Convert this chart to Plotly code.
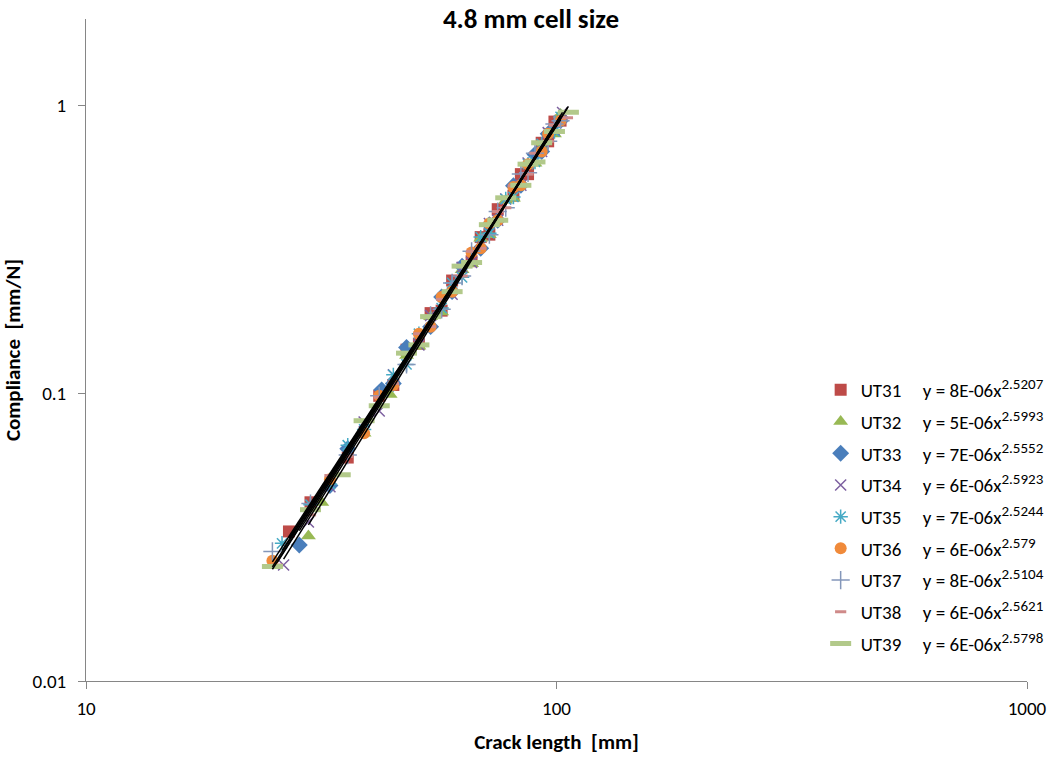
import numpy as np
import plotly.graph_objects as go

# ---- data (crack length [mm], compliance [mm/N]) ----
names = ["UT31", "UT32", "UT33", "UT34", "UT35", "UT36", "UT37", "UT38", "UT39"]
equations = [
    ("8E-06", "2.5207"), ("5E-06", "2.5993"), ("7E-06", "2.5552"),
    ("6E-06", "2.5923"), ("7E-06", "2.5244"), ("6E-06", "2.579"),
    ("8E-06", "2.5104"), ("6E-06", "2.5621"), ("6E-06", "2.5798"),
]

ut31_x = [27, 30, 36, 42, 45, 48, 51, 54, 57, 60, 66, 69, 72, 75, 81, 84, 87, 93, 96, 99, 102]
ut31_y = [0.0331, 0.0418, 0.0598, 0.0980, 0.1069, 0.1418, 0.1488, 0.1900, 0.1938, 0.2466, 0.2878,
          0.3491, 0.3560, 0.4365, 0.4864, 0.5779, 0.5777, 0.7427, 0.7514, 0.8800, 0.8866]

ut32_x = [29.7, 31.7, 39, 44.3, 48, 51, 54, 57, 63, 66, 69, 72, 78, 81, 87, 90, 93, 99, 102]
ut32_y = [0.0319, 0.0417, 0.0726, 0.0990, 0.1352, 0.1457, 0.1847, 0.1918, 0.2688, 0.2819, 0.3458,
          0.3560, 0.4690, 0.4763, 0.6259, 0.6305, 0.7284, 0.7962, 0.9318]

ut33_x = [28.4, 33, 36, 42.5, 45, 48, 54, 57, 60, 63, 69, 72, 75, 81, 84, 90, 93, 96, 102]
ut33_y = [0.0297, 0.0478, 0.0642, 0.1028, 0.1081, 0.1444, 0.1705, 0.2162, 0.2256, 0.2767, 0.3192,
          0.3856, 0.3994, 0.5265, 0.5284, 0.6765, 0.6927, 0.7978, 0.8866]

ut34_x = [26.3, 29.7, 33, 39, 42, 45, 51, 54, 60, 63, 66, 72, 75, 78, 84, 87, 93, 96, 99, 103]
ut34_y = [0.0253, 0.0357, 0.0473, 0.0795, 0.0868, 0.1159, 0.1473, 0.1865, 0.2210, 0.2740, 0.2848,
          0.3893, 0.3994, 0.4735, 0.5284, 0.6319, 0.6927, 0.8056, 0.8213, 0.9462]

ut35_x = [26.1, 30, 33, 36, 39, 45, 48, 51, 57, 60, 63, 69, 72, 78, 81, 87, 90, 93, 99, 102]
ut35_y = [0.0301, 0.0410, 0.0483, 0.0660, 0.0749, 0.1159, 0.1260, 0.1611, 0.1979, 0.2419, 0.2530,
          0.3491, 0.3597, 0.4735, 0.4813, 0.6259, 0.6371, 0.7355, 0.8130, 0.9137]

ut36_x = [24.9, 33, 39, 42, 45, 51, 54, 57, 60, 66, 69, 72, 75, 81, 84, 87, 93, 96, 102]
ut36_y = [0.0262, 0.0503, 0.0726, 0.0980, 0.1069, 0.1611, 0.1705, 0.2162, 0.2256, 0.3086, 0.3192,
          0.3893, 0.3994, 0.5215, 0.5284, 0.6259, 0.6927, 0.7978, 0.8866]

ut37_x = [24.9, 30, 36, 42, 48, 54, 57, 60, 63, 66, 72, 75, 78, 84, 87, 90, 96, 99, 102]
ut37_y = [0.0282, 0.0414, 0.0610, 0.0980, 0.1260, 0.1865, 0.1958, 0.2419, 0.2556, 0.3115, 0.3560,
          0.4283, 0.4416, 0.5779, 0.5837, 0.6831, 0.7514, 0.8632, 0.8866]

ut38_x = [25.5, 30, 33, 36, 42, 45, 51, 54, 57, 63, 66, 69, 75, 78, 81, 87, 90, 96, 99, 105.5]
ut38_y = [0.0253, 0.0378, 0.0518, 0.0604, 0.0970, 0.1081, 0.1611, 0.1705, 0.2122, 0.2556, 0.3115,
          0.3192, 0.4283, 0.4416, 0.5265, 0.5777, 0.6831, 0.7514, 0.8549, 0.9073]

ut39_x = [24.9, 30, 34.7, 39, 42, 48, 51, 54, 60, 63, 66, 72, 75, 78, 84, 87, 90, 93, 99, 106]
ut39_y = [0.0250, 0.0394, 0.0521, 0.0803, 0.0905, 0.1379, 0.1473, 0.1847, 0.2256, 0.2767, 0.2848,
          0.3856, 0.3994, 0.4781, 0.5284, 0.6259, 0.6371, 0.7427, 0.8130, 0.9481]

xs = [ut31_x, ut32_x, ut33_x, ut34_x, ut35_x, ut36_x, ut37_x, ut38_x, ut39_x]
ys = [ut31_y, ut32_y, ut33_y, ut34_y, ut35_y, ut36_y, ut37_y, ut38_y, ut39_y]

# ---- styles ----
FONT = "Calibri, Carlito, Lato, sans-serif"
styles = [
    dict(symbol="square", color="#BE4B48", size=12),
    dict(symbol="triangle-up", color="#98B954", size=13),
    dict(symbol="diamond", color="#4A7EBB", size=13),
    dict(symbol="x-thin-open", color="#7D60A0", size=11, line=dict(width=1.5, color="#7D60A0")),
    dict(symbol="asterisk-open", color="#46AAC5", size=12, line=dict(width=1.5, color="#46AAC5")),
    dict(symbol="circle", color="#F08A3A", size=12),
    dict(symbol="cross-thin-open", color="#8497BA", size=13, line=dict(width=1.5, color="#8497BA")),
    dict(symbol="line-ew-open", color="#CF8A89", size=8, line=dict(width=3, color="#CF8A89")),
    dict(symbol="line-ew-open", color="#B2C98A", size=15, line=dict(width=5, color="#B2C98A")),
]

fig = go.Figure()
NB = "\u00a0"
for i, (n, (a, b)) in enumerate(zip(names, equations)):
    st = dict(styles[i])
    line = st.pop("line", None)
    marker = dict(symbol=st["symbol"], color=st["color"], size=st["size"])
    if line:
        marker["line"] = line
    label = f"{n}{NB*5}y = {a}x<sup><span style='font-size:15px'>{b}</span></sup>"
    fig.add_trace(go.Scatter(x=xs[i], y=ys[i], mode="markers", name=label,
                             marker=marker, legendgroup=n, showlegend=True))

# power-law trend lines (least squares in log space), drawn over each series' range
for i, n in enumerate(names):
    lx = np.log10(np.array(xs[i], dtype=float))
    ly = np.log10(np.array(ys[i], dtype=float))
    slope, icpt = np.polyfit(lx, ly, 1)
    tx = np.array([min(xs[i]), max(xs[i])])
    ty = 10 ** (icpt + slope * np.log10(tx))
    fig.add_trace(go.Scatter(x=tx, y=ty, mode="lines", line=dict(color="black", width=1.5),
                             showlegend=False, hoverinfo="skip", legendgroup=n))

L, R, T, B = 85, 33, 19, 76
W, H = 1062, 757
pw = W - L - R
ph = H - T - B

fig.update_layout(
    width=W, height=H,
    margin=dict(l=L, r=R, t=T, b=B),
    paper_bgcolor="white", plot_bgcolor="white",
    font=dict(family=FONT, size=18, color="black"),
    title=dict(text="<b>4.8 mm cell size</b>", x=0.5, xanchor="center", y=1 - 19 / H,
               yanchor="middle", font=dict(size=27, family=FONT)),
    xaxis=dict(type="log", range=[1, 3], showline=True, linecolor="#868686", linewidth=1,
               ticks="outside", ticklen=7, tickcolor="#868686", showgrid=False, zeroline=False,
               tickvals=[10, 100, 1000], ticktext=["10", "100", "1000"], ticklabelstandoff=3,
               automargin=False,
               title=dict(text=f"<b>Crack length{NB}{NB}[mm]</b>", standoff=15,
                          font=dict(size=21)),
               tickfont=dict(size=19)),
    yaxis=dict(type="log", range=[-2, np.log10(2.0)], showline=True, linecolor="#868686",
               linewidth=1, ticks="outside", ticklen=7, tickcolor="#868686", showgrid=False,
               zeroline=False, tickvals=[0.01, 0.1, 1], ticktext=["0.01", "0.1", "1"],
               ticklabelstandoff=8, automargin=True,
               title=dict(text=f"<b>Compliance{NB}{NB}[mm/N]</b>", standoff=6,
                          font=dict(size=21)),
               tickfont=dict(size=19)),
    legend=dict(x=(822 - L) / pw, xanchor="left", y=(H - B - 371) / ph, yanchor="top",
                bgcolor="rgba(0,0,0,0)", borderwidth=0, tracegroupgap=4,
                font=dict(size=19, family=FONT)),
    showlegend=True,
)

fig.write_html("out.html")
